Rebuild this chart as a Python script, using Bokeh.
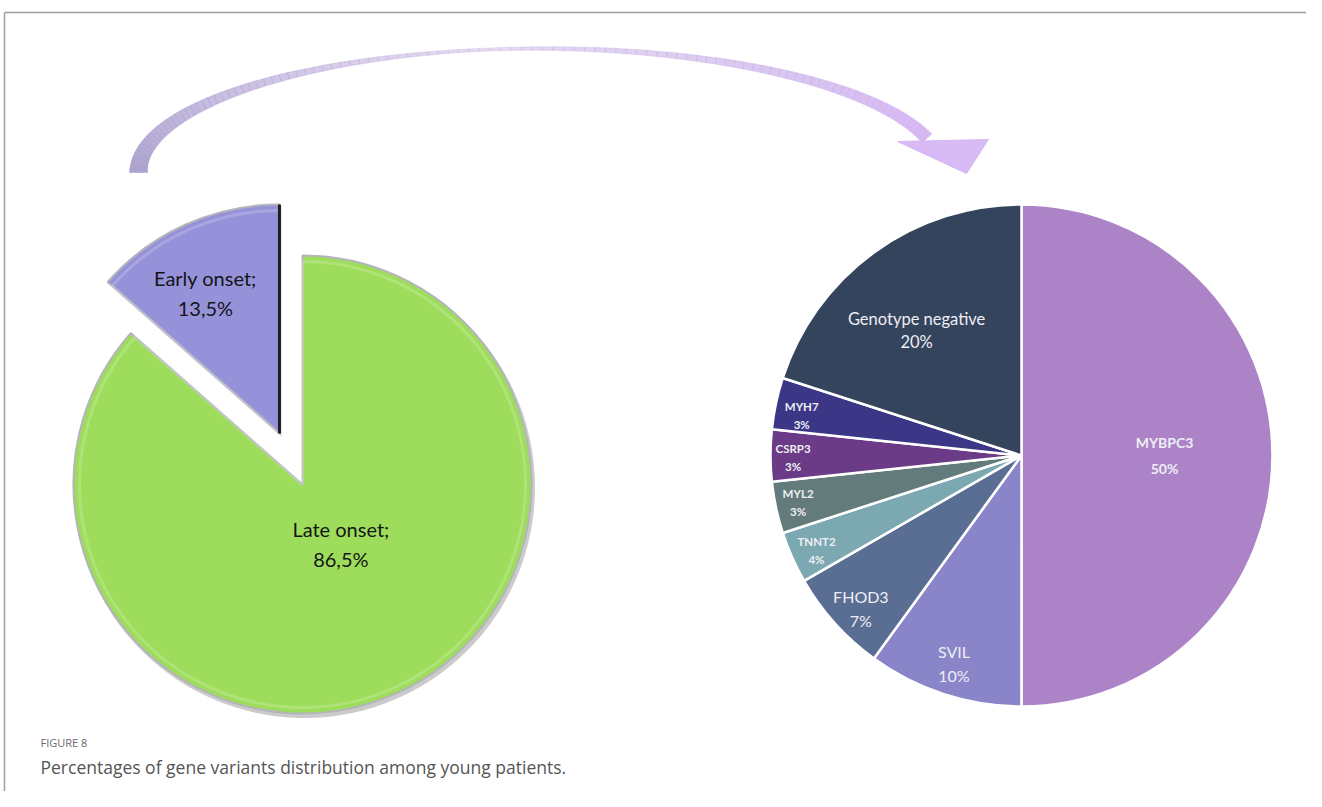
import numpy as np
from bokeh.plotting import figure
from bokeh.models import Range1d
from bokeh.core.properties import value
from bokeh.embed import file_html
from bokeh.resources import INLINE

# ---------------- data ----------------
onset_labels = ["Early onset;", "Late onset;"]
onset_pct = ["13,5%", "86,5%"]
onset_values = [13.5, 86.5]
onset_colors = ["#9692da", "#9edd5b"]

gene_labels = ["MYBPC3", "SVIL", "FHOD3", "TNNT2", "MYL2", "CSRP3", "MYH7", "Genotype negative"]
gene_pct = ["50%", "10%", "7%", "4%", "3%", "3%", "3%", "20%"]
gene_values = [50, 10, 6.67, 3.33, 3.33, 3.33, 3.33, 20]   # slice sizes as drawn
gene_colors = ["#ab83c6", "#8985c8", "#5a6d93", "#7ba8b1", "#637b7b", "#6b3b87", "#3c3686", "#35445d"]

caption_title = "FIGURE 8"
caption_text = "Percentages of gene variants distribution among young patients."

# ---------------- layout / style ----------------
PAGE_H = 807
def Y(v):
    return PAGE_H - v

W, H = 1306, 791
p = figure(width=W, height=H, x_range=Range1d(0, W), y_range=Range1d(PAGE_H - H, PAGE_H),
           output_backend="svg", toolbar_location=None, min_border=0)
p.axis.visible = False
p.grid.visible = False
p.outline_line_color = None
p.background_fill_color = "white"
p.border_fill_color = "white"

# frame lines
p.line(x=[4, 1322], y=[Y(12), Y(12)], line_color="#a0a0a0", line_width=1.5)
p.line(x=[4, 4], y=[Y(12), Y(807)], line_color="#a0a0a0", line_width=1.5)

# ---------------- curved arrow (decoration) ----------------
acx, acy, arx, ary = 540.0, Y(172), 402.0, 124.0
th = np.linspace(np.pi, np.radians(16), 110)
n = len(th)
u = np.linspace(0, 1, n)
thick = 3.0 + 15.0 * np.abs(2 * u - 1) ** 1.4
thick[u > 0.5] = 3.0 + 10.0 * np.abs(2 * u[u > 0.5] - 1) ** 1.2
px = acx + arx * np.cos(th)
py = acy + ary * np.sin(th)
dx = -arx * np.sin(th)
dy = ary * np.cos(th)
ln = np.hypot(dx, dy)
nx, ny = dy / ln, -dx / ln
c0 = np.array([0xa4, 0x9a, 0xca])
c1 = np.array([0xd2, 0xb0, 0xf2])
xs, ys, cols, alps = [], [], [], []
for i in range(n - 1):
    t0, t1 = thick[i] / 2, thick[i + 1] / 2
    xs.append([px[i] + nx[i] * t0, px[i + 1] + nx[i + 1] * t1, px[i + 1] - nx[i + 1] * t1, px[i] - nx[i] * t0])
    ys.append([py[i] + ny[i] * t0, py[i + 1] + ny[i + 1] * t1, py[i + 1] - ny[i + 1] * t1, py[i] - ny[i] * t0])
    c = c0 + (c1 - c0) * u[i]
    cols.append("#%02x%02x%02x" % tuple(int(v) for v in c))
    alps.append(0.4 + 0.5 * abs(2 * u[i] - 1))
p.patches(xs, ys, fill_color=cols, fill_alpha=alps, line_color=cols, line_alpha=alps, line_width=0.6)
p.patch(x=[897, 988, 966], y=[Y(141), Y(139), Y(173)], fill_color="#d4b4f3", fill_alpha=0.9,
        line_color="#d4b4f3", line_alpha=0.9)

# ---------------- left pie ----------------
lcx, lcy, lr = 302.0, Y(484), 229.0
ocum = np.concatenate([[0], np.cumsum(onset_values)]) / 100.0
o_start = np.pi / 2 + 2 * np.pi * ocum[:-1]
o_end = np.pi / 2 + 2 * np.pi * ocum[1:]
o_mid = (o_start + o_end) / 2
explode = [56.0, 0.0]
ox = [lcx + e * np.cos(m) for e, m in zip(explode, o_mid)]
oy = [lcy + e * np.sin(m) for e, m in zip(explode, o_mid)]

p.wedge(x=[x + 2 for x in ox], y=[y - 3 for y in oy], radius=lr + 1.5, start_angle=o_start, end_angle=o_end,
        direction="anticlock", fill_color="#8c8c8c", fill_alpha=0.45, line_color=None)
p.wedge(x=ox, y=oy, radius=lr, start_angle=o_start, end_angle=o_end, direction="anticlock",
        fill_color=onset_colors, line_color="#b4b4bc", line_width=2)
p.wedge(x=ox, y=oy, radius=lr - 6, start_angle=o_start, end_angle=o_end, direction="anticlock",
        fill_alpha=0.0, line_color="white", line_alpha=0.18, line_width=3)
p.segment(x0=[ox[0]], y0=[oy[0]], x1=[ox[0] + lr * np.cos(o_start[0])], y1=[oy[0] + lr * np.sin(o_start[0])],
          line_color="#1e1e24", line_width=3)

o_lab_frac = [0.695, 0.21]
o_lab_ang = [o_mid[0] + 0.06, np.radians(-80)]
lx = [ox[i] + o_lab_frac[i] * lr * np.cos(o_lab_ang[i]) for i in range(2)]
ly = [oy[i] + o_lab_frac[i] * lr * np.sin(o_lab_ang[i]) for i in range(2)]
lx[1] += 30
ly[1] -= 12
p.text(x=lx, y=[v + 15 for v in ly], text=onset_labels, text_font=value("Lato"), text_font_size="20px",
       text_align="center", text_baseline="middle", text_color="#151515")
p.text(x=lx, y=[v - 15 for v in ly], text=onset_pct, text_font=value("Lato"), text_font_size="20px",
       text_align="center", text_baseline="middle", text_color="#151515")

# ---------------- right pie ----------------
rcx, rcy, rr = 1021.0, Y(455), 251.0
gcum = np.concatenate([[0], np.cumsum(gene_values)]) / np.sum(gene_values)
g_start = np.pi / 2 - 2 * np.pi * gcum[1:]
g_end = np.pi / 2 - 2 * np.pi * gcum[:-1]
g_mid = (g_start + g_end) / 2
p.wedge(x=rcx, y=rcy, radius=rr, start_angle=g_start, end_angle=g_end, direction="anticlock",
        fill_color=gene_colors, line_color="white", line_width=2.5)

g_frac = [0.57, 0.87, 0.885, 0.9, 0.91, 0.91, 0.89, 0.65]
g_adj = [0.0, 0.0, 0.03, 0.015, 0.0, 0.01, 0.03, 0.07]
g_size = ["14px", "16px", "16px", "11.5px", "11.5px", "11.5px", "11.5px", "16.5px"]
g_style = ["bold", "normal", "normal", "bold", "bold", "bold", "bold", "normal"]
g_gap = [13, 12, 12, 9, 9, 9, 9, 11.5]
gx = [rcx + f * rr * np.cos(m + a) for f, m, a in zip(g_frac, g_mid, g_adj)]
gy = [rcy + f * rr * np.sin(m + a) for f, m, a in zip(g_frac, g_mid, g_adj)]
p.text(x=gx, y=[y + g for y, g in zip(gy, g_gap)], text=gene_labels, text_font=value("Lato"),
       text_font_size=g_size, text_font_style=g_style, text_align="center", text_baseline="middle",
       text_color="#eeeef4")
p.text(x=gx, y=[y - g for y, g in zip(gy, g_gap)], text=gene_pct, text_font=value("Lato"),
       text_font_size=g_size, text_font_style=g_style, text_align="center", text_baseline="middle",
       text_color="#eeeef4")

# ---------------- caption ----------------
p.text(x=[40], y=[Y(742)], text=[caption_title], text_font=value("Open Sans"), text_font_size="11px",
       text_align="left", text_baseline="middle", text_color="#6a6a6a")
p.text(x=[40], y=[Y(766)], text=[caption_text], text_font=value("Open Sans"), text_font_size="17.5px",
       text_align="left", text_baseline="middle", text_color="#555555")

open("out.html", "w").write(file_html(p, INLINE))
